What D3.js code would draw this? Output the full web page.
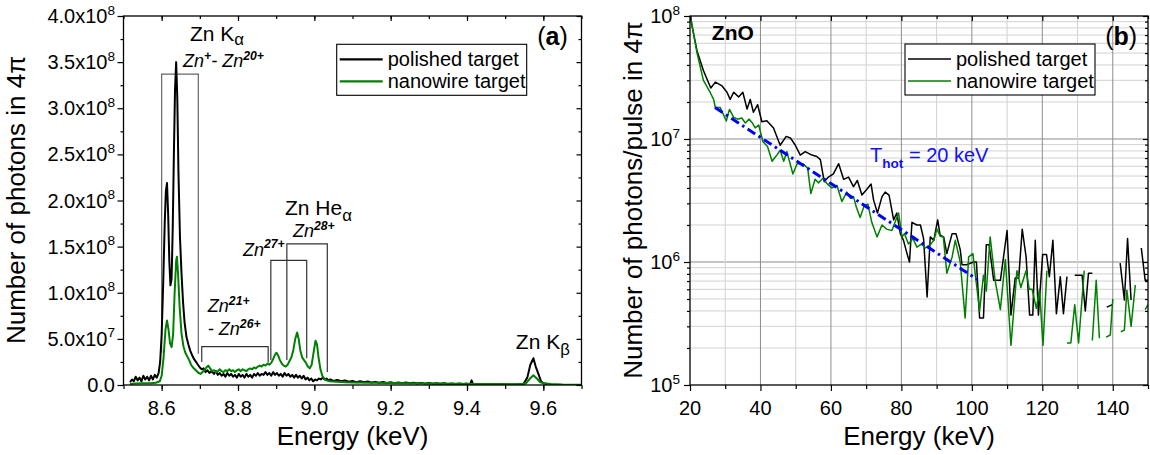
<!DOCTYPE html>
<html>
<head>
<meta charset="utf-8">
<script src="https://cdn.jsdelivr.net/npm/d3@7/dist/d3.min.js"></script>
<style>
  body { margin: 0; background: #fff; }
  svg text { font-family: "Liberation Sans", Arial, sans-serif; fill: #000; }
  .tick line { stroke: #000; stroke-width: 1.2; }
</style>
</head>
<body>
<svg id="chart" width="1150" height="455"></svg>
<script>
// ---------- panel (a): Zn K-shell spectrum, values in units of 10^6 photons ----------
var aBlackE = [8.517,8.522,8.527,8.532,8.537,8.542,8.547,8.552,8.557,8.562,8.567,8.572,8.577,8.582,8.587,8.592,
  8.596,8.600,8.604,8.608,8.611,8.614,8.617,8.620,8.623,8.626,8.629,8.632,8.635,8.638,8.641,8.644,8.648,8.652,8.656,
  8.660,8.665,8.670,8.675,8.680,8.685,8.690,8.695,8.700,8.705,8.710,8.715,8.720,8.725,8.730,
  8.737,8.742,8.747,8.752,8.757,8.762,8.767,8.772,8.777,8.782,8.787,8.792,8.797,8.802,8.807,8.812,8.817,8.822,8.827,
  8.832,8.837,8.842,8.847,8.852,8.857,8.862,8.867,8.872,8.877,8.882,8.887,8.892,8.897,8.902,8.907,8.912,8.917,8.922,
  8.927,8.932,8.937,8.942,8.947,8.952,8.957,8.962,8.967,8.972,8.977,8.982,8.987,8.992,8.997,9.002,9.007,9.012,9.017,
  9.022,9.027,9.032,9.037,9.042,9.05,9.06,9.07,9.08,9.09,9.10,9.11,9.12,9.13,9.14,9.15,9.16,9.17,9.18,9.19,9.20,9.21,
  9.22,9.23,9.24,9.25,9.26,9.27,9.28,9.29,9.30,9.31,9.32,9.33,9.34,9.35,9.36,9.37,9.38,9.39,9.40,9.408,9.412,9.416,
  9.43,9.45,9.47,9.49,9.51,9.53,9.548,9.558,9.566,9.574,9.58,9.587,9.594,9.60,9.61];
var aBlackV = [3,6,4,9,5,8,4,10,6,9,5,10,6,11,8,13,
  25,55,110,175,210,219,185,135,108,115,170,250,320,350,310,230,160,121,90,
  68,52,44,37,32,28,25,22,19,17,18,14,16,13,15,
  12,15,11,13,10,12,9,13,10,12,9,11,8,12,9,11,8,12,9,
  11,8,12,10,13,10,12,11,14,11,13,10,14,11,13,10,12,9,13,
  10,12,9,11,8,11,8,10,7,10,6,8,5,7,4,6,5,7,6,
  8,6,7,5,6,4.5,5.5,4,5,3.5,4.5,3,4,3,3.8,2.6,3.4,2.4,3.2,2.2,3,2,
  2.8,2,2.6,1.8,2.4,1.6,2.3,1.5,2.2,1.4,2,1.3,1.8,1.2,1.7,1,1.6,1.1,1.5,1,5,1,
  0.8,0.9,0.6,0.7,0.5,0.6,1,8,22,29,20,12,4,2,1];

var aGreenE = [8.517,8.53,8.55,8.57,8.585,8.595,8.600,8.605,8.610,8.614,8.618,8.622,8.626,8.630,8.634,8.638,8.640,
  8.643,8.647,8.652,8.657,8.662,8.667,8.672,8.677,8.682,8.687,8.692,8.697,8.702,8.707,8.712,8.717,8.722,8.727,8.732,
  8.737,8.742,8.747,8.752,8.757,8.762,8.767,8.772,8.777,8.782,8.787,8.792,8.797,8.802,8.807,8.812,8.817,8.822,8.827,
  8.832,8.837,8.842,8.847,8.852,8.857,8.862,8.867,8.872,8.877,8.882,8.887,8.892,8.897,8.901,8.905,8.910,8.915,8.920,
  8.925,8.930,8.935,8.940,8.945,8.950,8.955,8.959,8.963,8.968,8.973,8.978,8.983,8.988,8.993,8.998,9.003,9.007,9.011,
  9.016,9.021,9.026,9.031,9.04,9.06,9.08,9.10,9.15,9.2,9.25,9.3,9.35,9.4,9.45,9.5,9.54,9.555,9.565,9.574,9.583,9.592,
  9.6,9.62,9.65,9.7];
var aGreenV = [1,1.5,2,2,2.5,4,10,30,60,70,60,45,41,55,100,135,139,
  120,85,56,42,35,31,27,22,19,17,15,13,12,14,16,19,21,18,15,
  16,14,15,17,15,14,16,15,17,15,16,14,16,17,15,17,16,15,17,
  18,17,19,18,20,21,20,22,21,23,22,24,28,33,35,32,27,23,21,
  20,22,26,30,38,50,57,50,38,30,27,24,20,18,22,35,48,44,30,
  17,10,7,5,4,3.5,3,2.8,2.5,2.2,2,1.6,1.4,1.2,1,0.8,0.8,2,7,10.5,7,3,
  2,1,0.5,0.3];

var aXTicks = [8.6, 8.8, 9.0, 9.2, 9.4, 9.6];
var aYTicks = [0, 50, 100, 150, 200, 250, 300, 350, 400];

// ---------- panel (b): hard x-ray spectrum, photons/pulse ----------
var bBlackE = [20.1,20.5,22.0,23.8,25.9,27.2,29.1,30.5,31.4,32.4,33.8,35.0,36.2,37.1,38.0,39.2,40.4,41.8,43.7,45.6,
  47.3,48.5,49.9,51.3,52.7,54.6,56.0,57.0,58.1,59.3,60.7,62.2,63.6,65.0,66.4,67.5,68.8,70.2,71.4,72.1,73.2,74.5,75.4,
  76.5,77.8,78.7,79.7,80.6,81.6,82.3,83.0,84.4,85.4,86.3,87.3,88.2,89.2,90.3,91.0,92.0,92.9,94.4,95.5,96.7,97.2,98.5,
  100.5,101.3,102.2,103.3,104.1,104.9,106.2,108.1,110.0,111.1,112.3,113.3,114.3,115.4,116.4,117.3,118.0,118.9,120.1,
  121.2,122.0,123.0,124.0,125.1,126.0,127.0,128.0,129.2,131.3,132.2,133.1,134.2,136.0,138.3,139.9,141.0,142.1,143.3,
  144.2,145.2,146.5,148.1,149.2,150];
var bBlackV = [1.05e8,8.5e7,5.2e7,3.6e7,2.6e7,2.9e7,2.7e7,2.4e7,2.1e7,2.4e7,2.2e7,2.4e7,1.75e7,2.1e7,1.65e7,1.9e7,
  1.38e7,1.41e7,1.23e7,8.9e6,1.05e7,1.02e7,8.9e6,7.4e6,7.9e6,7.4e6,7.2e6,6.8e6,4.5e6,4.9e6,5.2e6,6.3e6,4.7e6,4.9e6,
  4.1e6,4.6e6,3.5e6,3.9e6,4.3e6,3.2e6,2.5e6,3.4e6,3.7e6,3.5e6,2.2e6,2.5e6,1.7e6,1.5e6,1.17e6,1.0e6,2.1e6,2.0e6,2.0e6,
  1.55e6,5.2e5,1.6e6,1.5e6,2.2e6,1.65e6,1.6e6,1.17e6,1.7e6,1.7e6,1.26e6,9.5e5,9.5e5,1.0e6,1.0e6,3.5e5,3.5e5,1.38e6,
  1.38e6,7.1e5,7.1e5,1.8e6,3.7e5,7.4e5,7.4e5,1.85e6,1.1e6,3.7e5,3.7e5,1.5e6,3.7e5,1.15e6,1.15e6,7.6e5,1.5e6,3.8e5,
  7.6e5,3.8e5,7.6e5,null,7.8e5,7.8e5,4.0e5,8.1e5,8.1e5,null,4.3e5,4.5e5,null,9.8e5,4.9e5,1.55e6,4.9e5,null,1.3e6,
  7.1e5,7.1e5];

var bGreenE = [20.1,22.0,23.8,25.7,26.7,27.2,28.6,30.3,31.2,32.4,33.5,34.7,35.7,36.8,37.7,38.5,39.5,40.7,42.0,43.3,
  44.5,45.6,46.6,47.5,49.2,50.4,52.0,53.4,54.3,55.5,56.5,57.7,59.0,60.3,61.7,63.1,64.5,65.5,66.4,67.2,68.3,69.5,70.5,
  71.6,73.1,74.5,75.8,77.3,79.2,80.2,80.9,82.0,83.3,84.4,85.7,86.8,88.2,89.2,90.1,91.0,91.9,92.9,94.4,95.3,96.7,98.1,
  99.1,100.3,101.2,102.2,103.3,104.1,105.2,106.6,108.1,109.5,111.1,112.8,113.9,115.4,116.3,117.1,118.3,119.2,120.2,
  121.3,123.0,127.0,128.1,129.2,130.3,131.9,133.0,134.2,135.3,136.2,137.2,138.1,139.3,140.0,141.0,142.3,143.3,144.0,
  145.2,146.4,147.5,149.2,150];
var bGreenV = [1.0e8,5.0e7,3.0e7,2.4e7,2.1e7,1.8e7,1.8e7,1.4e7,1.74e7,1.5e7,1.45e7,1.48e7,1.35e7,1.45e7,1.35e7,1.23e7,
  1.3e7,9.5e6,8.7e6,6.6e6,7.3e6,8.1e6,6.6e6,7.9e6,5.2e6,6.3e6,6.3e6,5.8e6,3.6e6,4.7e6,4.4e6,4.8e6,4.3e6,4.0e6,4.2e6,
  3.1e6,3.7e6,3.3e6,3.4e6,2.8e6,2.3e6,2.9e6,2.95e6,2.1e6,1.6e6,2.0e6,1.85e6,1.8e6,2.5e6,1.6e6,1.7e6,1.4e6,1.55e6,
  1.32e6,1.4e6,1.3e6,1.38e6,1.5e6,1.86e6,1.62e6,1.6e6,8.1e5,1.1e6,1.5e6,1.0e6,3.5e5,1.1e6,1.17e6,7.0e5,4.0e5,7.8e5,
  5.8e5,1.6e6,7.1e5,4.1e5,1.05e6,2.1e5,8.5e5,6.2e5,8.5e5,6.0e5,6.0e5,4.2e5,6.0e5,2.1e5,8.5e5,null,2.2e5,2.2e5,4.5e5,
  2.2e5,8.5e5,null,2.3e5,7.1e5,2.4e5,null,2.45e5,2.55e5,5.0e5,null,2.7e5,2.8e5,5.9e5,3.0e5,6.5e5,null,4.1e5,4.5e5];

// exponential fit, T_hot = 20 keV
var fitE = [27.1, 101.6];
var fitV = [1.8e7, 7.2e5];

var bXTicks = [20, 40, 60, 80, 100, 120, 140];
var bYTicks = [1e5, 1e6, 1e7, 1e8];

var seriesNames = ["polished target", "nanowire target"];
var seriesColors = ["#000000", "#008000"];

var svg = d3.select("#chart");
var FONT = 20;
var TITLE = 26;

var xA = d3.scaleLinear().domain([8.5, 9.7]).range([123.5, 581.5]);
var yA = d3.scaleLinear().domain([0, 400]).range([385, 16]);
var xB = d3.scaleLinear().domain([20, 150]).range([690, 1148]);
var yB = d3.scaleLog().domain([1e5, 1e8]).range([385, 16]);

function zip(e, v) {
  return e.map(function(d, i) { return [d, v[i]]; });
}

// text with sub/superscripts; parts = [{t, sup, sub, b, i}]
function richText(g, x, y, parts, size, anchor) {
  var t = g.append("text").attr("x", x).attr("y", y).attr("font-size", size)
    .attr("text-anchor", anchor || "start");
  var shift = 0;
  parts.forEach(function(p) {
    var target = p.sup ? -0.42 * size : (p.sub ? (p.drop || 0.28) * size : 0);
    var ts = t.append("tspan").attr("dy", target - shift).text(p.t);
    shift = target;
    if (p.sup || p.sub) ts.attr("font-size", size * (p.small || 0.68));
    if (p.b) ts.attr("font-weight", "bold");
    if (p.i) ts.attr("font-style", "italic");
  });
  return t;
}

function clip(id, x, y) {
  svg.append("clipPath").attr("id", id).append("rect")
    .attr("x", x.range()[0]).attr("y", y.range()[1])
    .attr("width", x.range()[1] - x.range()[0])
    .attr("height", y.range()[0] - y.range()[1]);
}

function frameTicks(x, y, xMaj, xMin, yMaj, yMin) {
  var g = svg.append("g");
  var b = y.range()[0], t = y.range()[1], l = x.range()[0], r = x.range()[1];
  function noDomain(s) { s.select(".domain").remove(); }
  g.append("g").attr("transform", "translate(0," + b + ")")
    .call(d3.axisBottom(x).tickValues(xMaj).tickSize(6).tickFormat("")).call(noDomain);
  g.append("g").attr("transform", "translate(0," + b + ")")
    .call(d3.axisBottom(x).tickValues(xMin).tickSize(4).tickFormat("")).call(noDomain);
  g.append("g").attr("transform", "translate(0," + t + ")")
    .call(d3.axisTop(x).tickValues(xMaj).tickSize(-5).tickFormat("")).call(noDomain);
  g.append("g").attr("transform", "translate(0," + t + ")")
    .call(d3.axisTop(x).tickValues(xMin).tickSize(-3).tickFormat("")).call(noDomain);
  g.append("g").attr("transform", "translate(" + l + ",0)")
    .call(d3.axisLeft(y).tickValues(yMaj).tickSize(6).tickFormat("")).call(noDomain);
  g.append("g").attr("transform", "translate(" + l + ",0)")
    .call(d3.axisLeft(y).tickValues(yMin).tickSize(3).tickFormat("")).call(noDomain);
  g.append("g").attr("transform", "translate(" + r + ",0)")
    .call(d3.axisRight(y).tickValues(yMaj).tickSize(-5).tickFormat("")).call(noDomain);
  g.append("g").attr("transform", "translate(" + r + ",0)")
    .call(d3.axisRight(y).tickValues(yMin).tickSize(-3).tickFormat("")).call(noDomain);
  g.append("rect").attr("x", l).attr("y", t).attr("width", r - l).attr("height", b - t)
    .attr("fill", "none").attr("stroke", "#000").attr("stroke-width", 1.3);
}

function legend(x0, y0, lw) {
  var g = svg.append("g");
  g.append("rect").attr("x", x0).attr("y", y0).attr("width", 190).attr("height", 51)
    .attr("fill", "#fff").attr("stroke", "#000").attr("stroke-width", 1.1);
  seriesNames.forEach(function(n, i) {
    var yy = y0 + 15 + i * 22;
    g.append("line").attr("x1", x0 + 3).attr("x2", x0 + 46).attr("y1", yy).attr("y2", yy)
      .attr("stroke", seriesColors[i]).attr("stroke-width", lw);
    g.append("text").attr("x", x0 + 51).attr("y", yy + 7).attr("font-size", FONT).text(n);
  });
}

// ================= panel (a) =================
clip("clipA", xA, yA);
var lineA = d3.line().x(function(d) { return xA(d[0]); }).y(function(d) { return yA(d[1]); });
var gA = svg.append("g").attr("clip-path", "url(#clipA)");

// ionisation-stage brackets (energy in keV, height in 10^6 photons)
var brackets = [
  { e1: 8.600, e2: 8.696, top: 337, b1: 35, b2: 34, color: "#666" },
  { e1: 8.705, e2: 8.879, top: 41.5, b1: 25, b2: 24, color: "#333" },
  { e1: 8.886, e2: 8.980, top: 135, b1: 27, b2: 29, color: "#333" },
  { e1: 8.928, e2: 9.034, top: 153, b1: 27, b2: 14, color: "#333" }
];
brackets.forEach(function(k) {
  gA.append("path")
    .attr("d", "M" + xA(k.e1) + "," + yA(k.b1) + "V" + yA(k.top) + "H" + xA(k.e2) + "V" + yA(k.b2))
    .attr("fill", "none").attr("stroke", k.color).attr("stroke-width", 1.2);
});

gA.append("path").datum(zip(aBlackE, aBlackV)).attr("d", lineA)
  .attr("fill", "none").attr("stroke", seriesColors[0]).attr("stroke-width", 2).attr("stroke-linejoin", "round");
gA.append("path").datum(zip(aGreenE, aGreenV)).attr("d", lineA)
  .attr("fill", "none").attr("stroke", seriesColors[1]).attr("stroke-width", 2).attr("stroke-linejoin", "round");

var aXMinor = d3.range(85, 98).map(function(d) { return d / 10; });
var aYMinor = d3.range(25, 400, 50);
frameTicks(xA, yA, aXTicks, aXMinor, aYTicks, aYMinor);

aXTicks.forEach(function(v) {
  svg.append("text").attr("x", xA(v)).attr("y", 415).attr("text-anchor", "middle")
    .attr("font-size", FONT).text(v.toFixed(1));
});
aYTicks.forEach(function(v) {
  if (v === 0) {
    svg.append("text").attr("x", 115).attr("y", yA(v) + 7).attr("text-anchor", "end")
      .attr("font-size", FONT).text("0.0");
    return;
  }
  var n = v * 1e6, e = Math.floor(Math.log10(n) + 1e-9);
  richText(svg, 115, yA(v) + 7, [{ t: (n / Math.pow(10, e)).toFixed(1) + "x10" }, { t: String(e), sup: true }], FONT, "end");
});
svg.append("text").attr("x", xA(9.1)).attr("y", 445).attr("text-anchor", "middle")
  .attr("font-size", TITLE).text("Energy (keV)");
svg.append("text").attr("transform", "translate(25,200) rotate(-90)").attr("text-anchor", "middle")
  .attr("font-size", TITLE).text("Number of photons in 4\u03c0");

var aLabels = [
  { e: 8.674, v: 373, size: 21, parts: [{ t: "Zn K" }, { t: "\u03b1", sub: true, small: 0.8, drop: 0.2 }] },
  { e: 8.656, v: 344.5, size: 18, parts: [{ t: "Zn", i: true }, { t: "+", sup: true, b: true, i: true }, { t: "- Zn", i: true }, { t: "20+", sup: true, b: true, i: true }] },
  { e: 8.923, v: 184, size: 21, parts: [{ t: "Zn He" }, { t: "\u03b1", sub: true, small: 0.8 }] },
  { e: 8.944, v: 160, size: 18, parts: [{ t: "Zn", i: true }, { t: "28+", sup: true, b: true, i: true }] },
  { e: 8.813, v: 140, size: 18, parts: [{ t: "Zn", i: true }, { t: "27+", sup: true, b: true, i: true }] },
  { e: 8.721, v: 79, size: 18, parts: [{ t: "Zn", i: true }, { t: "21+", sup: true, b: true, i: true }] },
  { e: 8.721, v: 54, size: 18, parts: [{ t: "- Zn", i: true }, { t: "26+", sup: true, b: true, i: true }] },
  { e: 9.528, v: 39, size: 21, parts: [{ t: "Zn K" }, { t: "\u03b2", sub: true, small: 0.8 }] }
];
aLabels.forEach(function(a) { richText(svg, xA(a.e), yA(a.v), a.parts, a.size); });
richText(svg, xA(9.664), yA(368.5), [{ t: "(" }, { t: "a", b: true }, { t: ")" }], 25, "end");
legend(336.7, 44.3, 2.2);

// ================= panel (b) =================
clip("clipB", xB, yB);
var gridB = svg.append("g");
yB.ticks().forEach(function(v) {
  if (v <= 1e5 || v >= 1e8) return;
  var major = Math.abs(Math.log10(v) - Math.round(Math.log10(v))) < 1e-6;
  gridB.append("line").attr("x1", xB.range()[0]).attr("x2", xB.range()[1])
    .attr("y1", yB(v)).attr("y2", yB(v))
    .attr("stroke", major ? "#8c8c8c" : "#d2d2d2").attr("stroke-width", 1);
});
var bXMinor = d3.range(30, 151, 20);
d3.range(30, 150, 10).forEach(function(v) {
  var major = v % 20 === 0;
  gridB.append("line").attr("x1", xB(v)).attr("x2", xB(v))
    .attr("y1", yB.range()[0]).attr("y2", yB.range()[1])
    .attr("stroke", major ? "#8c8c8c" : "#d2d2d2").attr("stroke-width", 1);
});

var lineB = d3.line().defined(function(d) { return d[1] != null; })
  .x(function(d) { return xB(d[0]); }).y(function(d) { return yB(d[1]); });
var gB = svg.append("g").attr("clip-path", "url(#clipB)");
gB.append("path").datum(zip(bBlackE, bBlackV)).attr("d", lineB)
  .attr("fill", "none").attr("stroke", seriesColors[0]).attr("stroke-width", 1.5).attr("stroke-linejoin", "round");
gB.append("path").datum(zip(bGreenE, bGreenV)).attr("d", lineB)
  .attr("fill", "none").attr("stroke", seriesColors[1]).attr("stroke-width", 1.5).attr("stroke-linejoin", "round");
gB.append("path").datum(zip(fitE, fitV)).attr("d", lineB)
  .attr("fill", "none").attr("stroke", "#0000ff").attr("stroke-width", 3)
  .attr("stroke-dasharray", "9,4,2.5,4");

var bYMinor = yB.ticks().filter(function(v) { return bYTicks.indexOf(v) < 0; });
frameTicks(xB, yB, bXTicks, bXMinor, bYTicks, bYMinor);

bXTicks.forEach(function(v) {
  svg.append("text").attr("x", xB(v)).attr("y", 415).attr("text-anchor", "middle")
    .attr("font-size", FONT).text(v);
});
bYTicks.forEach(function(v) {
  richText(svg, 680, yB(v) + 7, [{ t: "10" }, { t: String(Math.round(Math.log10(v))), sup: true }], FONT, "end");
});
svg.append("text").attr("x", xB(85)).attr("y", 445).attr("text-anchor", "middle")
  .attr("font-size", TITLE).text("Energy (keV)");
svg.append("text").attr("transform", "translate(642,200) rotate(-90)").attr("text-anchor", "middle")
  .attr("font-size", TITLE).text("Number of photons/pulse in 4\u03c0");

richText(svg, xB(26.2), yB(6.4e7), [{ t: "ZnO", b: true }], 21);
richText(svg, xB(146.9), yB(5.8e7), [{ t: "(" }, { t: "b", b: true }, { t: ")" }], 25, "end");
richText(svg, xB(71.1), yB(6.5e6), [{ t: "T" }, { t: "hot", sub: true, b: true }, { t: " = 20 keV" }], FONT)
  .selectAll("tspan").style("fill", "#1010ff");
legend(905, 44, 1.6);
</script>
</body>
</html>
